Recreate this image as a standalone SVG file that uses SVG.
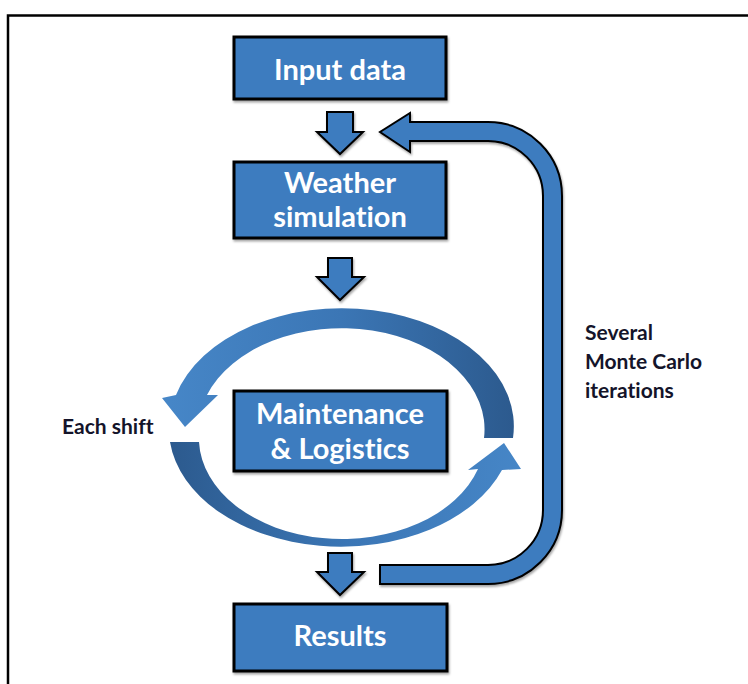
<svg xmlns="http://www.w3.org/2000/svg" width="748" height="684" viewBox="0 0 748 684">
<defs>
<style>
.box{fill:#3e7cbf;stroke:#000;stroke-width:3}
.arr{fill:#3e7cbf;stroke:#000;stroke-width:2;stroke-linejoin:miter}
.bt{font-family:Lato,"Liberation Sans",sans-serif;font-weight:bold;fill:#fff;font-size:29px;text-anchor:middle;font-variant-ligatures:none}
.lbl{font-family:Lato,"Liberation Sans",sans-serif;font-weight:bold;fill:#14142a;font-size:21px;font-variant-ligatures:none}
</style>
<filter id="sh" x="-10%" y="-10%" width="120%" height="130%">
<feDropShadow dx="1" dy="2" stdDeviation="1.2" flood-color="#000" flood-opacity="0.35"/>
</filter>
<linearGradient id="gTop" gradientUnits="userSpaceOnUse" x1="513" y1="0" x2="170" y2="0">
<stop offset="0" stop-color="#2c5a8e"/>
<stop offset="0.5" stop-color="#3b76b5"/>
<stop offset="1" stop-color="#4686c7"/>
</linearGradient>
<linearGradient id="gBot" gradientUnits="userSpaceOnUse" x1="170" y1="0" x2="522" y2="0">
<stop offset="0" stop-color="#2c5a8e"/>
<stop offset="0.5" stop-color="#3b76b5"/>
<stop offset="1" stop-color="#4686c7"/>
</linearGradient>
</defs>
<rect width="748" height="684" fill="#fff"/>
<path d="M8,700 V15.5 H760" fill="none" stroke="#000" stroke-width="2.5"/>

<g id="connectors">
<path class="arr" filter="url(#sh)" d="M327,112 H353 V132 H363 L340,154 L317,132 H327 Z"/>
<path class="arr" filter="url(#sh)" d="M328,258 H352 V277 H364 L340,300 L317,277 H328 Z"/>
<path class="arr" filter="url(#sh)" d="M328,553 H352 V572 H364 L340,595 L317,572 H328 Z"/>
<path class="arr" filter="url(#sh)" d="M380,565 L488,565 A55,55 0 0 0 543,510 L543,196 A55,55 0 0 0 488,141 L410,141 L410,152 L380,132 L410,113 L410,122 L488,122 A74,74 0 0 1 562,196 L562,510 A74,74 0 0 1 488,584 L380,584 Z"/>
<path id="cycleTop" fill="url(#gTop)" d="M513,438 A172,118 0 0 0 176,395 L162,398 L185,427 L218,395 L207,395 A143,101 0 0 1 484,438 Z"/>
<path id="cycleBottom" fill="url(#gBot)" d="M170,442 A172,118 0 0 0 502,470 L521,469 L504,443 L468,470 L478,469 A143,101 0 0 1 199,442 Z"/>
</g>

<g id="input">
<rect class="box" filter="url(#sh)" x="234" y="37" width="212" height="62"/>
<text class="bt" x="340" y="80">Input data</text>
</g>
<g id="weather">
<rect class="box" filter="url(#sh)" x="234" y="162" width="212" height="76"/>
<text class="bt" x="340" y="193">Weather</text>
<text class="bt" x="340" y="227">simulation</text>
</g>
<g id="maintenance">
<rect class="box" filter="url(#sh)" x="234" y="391" width="213" height="80"/>
<text class="bt" x="340" y="424">Maintenance</text>
<text class="bt" x="340" y="459">&amp; Logistics</text>
</g>
<g id="results">
<rect class="box" filter="url(#sh)" x="234" y="604" width="213" height="67"/>
<text class="bt" x="340" y="646">Results</text>
</g>
<g id="labels">
<text class="lbl" x="62" y="434">Each shift</text>
<text class="lbl" x="585" y="340">Several</text>
<text class="lbl" x="585" y="369">Monte Carlo</text>
<text class="lbl" x="585" y="398">iterations</text>
</g>
</svg>
